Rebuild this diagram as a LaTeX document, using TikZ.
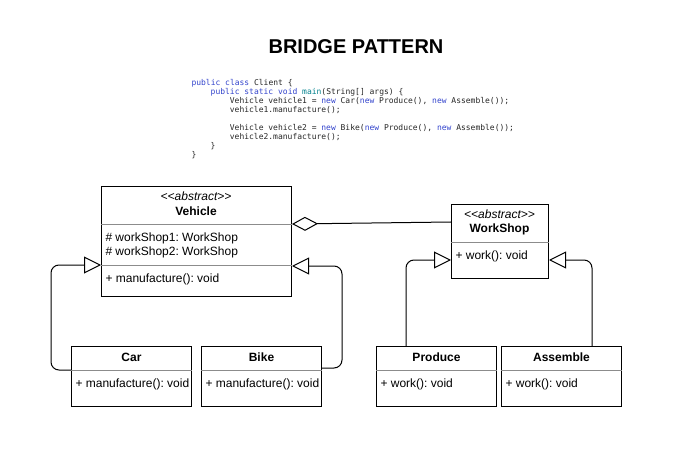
\documentclass[tikz,border=0pt]{standalone}
\usepackage{fontspec}
\setmainfont{Liberation Sans}
\setmonofont{DejaVu Sans Mono}
\usetikzlibrary{arrows.meta,calc,positioning}
\definecolor{kwblue}{RGB}{51,68,204}
\definecolor{fnteal}{RGB}{0,128,140}
\newcommand\kw[1]{\textcolor{kwblue}{#1}}
\newcommand\ind{\hspace*{19.2pt}}
\frenchspacing

\begin{document}
\begin{tikzpicture}[x=1pt,y=-1pt,line width=1pt,
  umlbox/.style={draw,anchor=north west,inner sep=0pt},
  sepline/.style={black!45,line width=0.8pt},
  txt/.style={font=\fontsize{12}{14}\selectfont,inner sep=0pt},
  ttl/.style={font=\bfseries\fontsize{12}{14}\selectfont,inner sep=0pt},
  inherit/.style={-{Triangle[open,length=17pt,width=17pt]},rounded corners=8pt},
  aggr/.style={{Diamond[open,length=26pt,width=14pt]}-}]

\useasboundingbox (0,0) rectangle (688,473);

% Cim
\node[font=\bfseries\fontsize{20}{24}\selectfont] (title) at (356,47) {BRIDGE PATTERN};

% Kliens kod
\node[anchor=north west,align=left,inner sep=0pt,text=black!85,
  font=\ttfamily\fontsize{8}{9}\selectfont] (code) at (191,79) {%
\kw{public class} Client \{\\
\ind\kw{public static void} \textcolor{fnteal}{main}(String[] args) \{\\
\ind\ind Vehicle vehicle1 = \kw{new} Car(\kw{new} Produce(), \kw{new} Assemble());\\
\ind\ind vehicle1.manufacture();\\[9pt]
\ind\ind Vehicle vehicle2 = \kw{new} Bike(\kw{new} Produce(), \kw{new} Assemble());\\
\ind\ind vehicle2.manufacture();\\
\ind\}\\
\}};

% Vehicle osztaly
\node[umlbox,minimum width=190pt,minimum height=110pt] (veh) at (101,186) {};
\draw[sepline] ([yshift=-38pt]veh.north west) -- ([yshift=-38pt]veh.north east);
\draw[sepline] ([yshift=-79pt]veh.north west) -- ([yshift=-79pt]veh.north east);
\node[txt,font=\itshape\fontsize{12}{14}\selectfont] (vehA) at (196,196) {{<}{<}abstract{>}{>}};
\node[ttl] (vehT) at (196,211) {Vehicle};
\node[txt,anchor=west] (vehW1) at (105,238) {\# workShop1: WorkShop};
\node[txt,anchor=west] (vehW2) at (105,252) {\# workShop2: WorkShop};
\node[txt,anchor=west] (vehM) at (105,279) {+ manufacture(): void};

% WorkShop osztaly
\node[umlbox,minimum width=97pt,minimum height=74pt] (ws) at (451,204) {};
\draw[sepline] ([yshift=-38pt]ws.north west) -- ([yshift=-38pt]ws.north east);
\node[txt,font=\itshape\fontsize{12}{14}\selectfont] (wsA) at (499.5,214) {{<}{<}abstract{>}{>}};
\node[ttl] (wsT) at (499.5,229) {WorkShop};
\node[txt,anchor=west] (wsM) at (455,256) {+ work(): void};

% Leszarmazott osztalyok
\foreach \nm/\xx/\cname/\mth in {car/71/Car/{+ manufacture(): void},bike/201/Bike/{+ manufacture(): void},
  prod/376/Produce/{+ work(): void},asm/501/Assemble/{+ work(): void}}{
\node[umlbox,minimum width=120pt,minimum height=60pt] (\nm) at (\xx,346) {};
\draw[sepline] ([yshift=-24pt]\nm.north west) -- ([yshift=-24pt]\nm.north east);
\node[ttl] (\nm T) at ([yshift=-11pt]\nm.north) {\cname};
\node[txt,anchor=west] (\nm M) at ([xshift=4pt,yshift=-38pt]\nm.north west) {\mth};
}

% Oroklodes
\draw[inherit] ([yshift=-24pt]car.north west) -- ++(-20,0) |- ([yshift=-79pt]veh.north west);
\draw[inherit] ([yshift=-22pt]bike.north east) -- ++(20,0) |- ([yshift=-80pt]veh.north east);
\draw[inherit] ([xshift=30pt]prod.north west) |- ([yshift=-56pt]ws.north west);
\draw[inherit] ([xshift=-30pt]asm.north east) |- ([yshift=-56pt]ws.north east);

% Aggregacio
\draw[aggr] ([yshift=-38pt]veh.north east) -- ([yshift=-18pt]ws.north west);

\end{tikzpicture}
\end{document}
